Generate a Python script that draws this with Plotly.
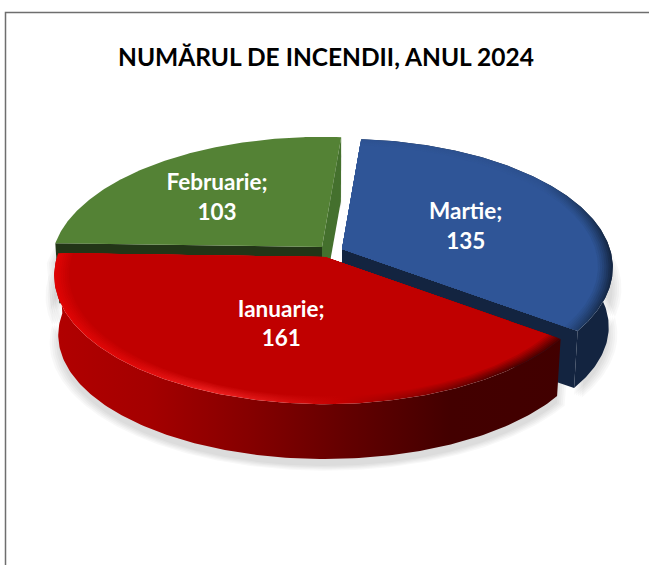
import math
import plotly.graph_objects as go

# ---- data ----
categories = ["Ianuarie", "Februarie", "Martie"]
values = [161, 103, 135]
title_text = "NUMĂRUL DE INCENDII, ANUL 2024"

# ---- geometry of the 3D look (pixel space) ----
W, H = 649, 565
RX, RY, K = 268, 126, 0.144
DROP, BOTTOM_SX, BOTTOM_SY = 60, 0.985, 0.965
START_ANGLE = -36.5
BEVEL = 0.055
apexes = {"Ianuarie": (325, 257), "Februarie": (322, 247), "Martie": (342, 249)}
label_radius = {"Ianuarie": 0.47, "Februarie": 0.62, "Martie": 0.52}
label_shift = {"Ianuarie": (4, 4), "Februarie": (-5, 5), "Martie": (4, 5)}

# ---- styles ----
BASE = {"Ianuarie": "#c00000", "Februarie": "#548235", "Martie": "#2f5597"}
FACE = {"Februarie": "#223517", "Martie": "#132440"}
RED_WALL = [(0, "#b80000"), (150, "#a40000"), (250, "#850000"), (350, "#620000"),
            (450, "#430000"), (649, "#400000")]
RED_EDGE = [(0, "#e00000"), (130, "#e00808"), (210, "#ee2020"), (270, "#dd1414"),
            (340, "#c40000"), (420, "#8c0000"), (500, "#520000"), (649, "#480000")]
BLUE_EDGE = [(0, "#2f5597"), (540, "#2c508e"), (585, "#1d3861"), (615, "#132440"), (649, "#132440")]


def rgb(h):
    return tuple(int(h[i:i + 2], 16) for i in (1, 3, 5))


def mix(a, b, f):
    ca, cb = rgb(a), rgb(b)
    return "rgb(%d,%d,%d)" % tuple(round(x + (y - x) * f) for x, y in zip(ca, cb))


def gradient(stops, base=None, f=0.0):
    return dict(type="horizontal", start=0, stop=W,
                colorscale=[[x / W, mix(c, base or c, f)] for x, c in stops])


def pt(apex, t, sx=1.0, sy=1.0, drop=0.0):
    u, v = math.cos(math.radians(t)), math.sin(math.radians(t))
    d = 1 + K * v
    return apex[0] + RX * u / d * sx, apex[1] - RY * v / d * sy + drop


def arc(apex, t0, t1, sx=1.0, sy=1.0, drop=0.0, n=160):
    pts = [pt(apex, t0 + (t1 - t0) * i / n, sx, sy, drop) for i in range(n + 1)]
    return [p[0] for p in pts], [p[1] for p in pts]


fig = go.Figure()


def poly(xs, ys, fill=None, grad=None):
    kw = dict(x=xs + xs[:1], y=ys + ys[:1], mode="lines", line=dict(width=0),
              fill="toself", hoverinfo="skip", showlegend=False)
    if grad:
        kw["fillgradient"] = grad
    else:
        kw["fillcolor"] = fill
    fig.add_trace(go.Scatter(**kw))


# angular extents derived from the values
total = sum(values)
spans = {}
a = START_ANGLE
for c, v in zip(categories, values):
    b = a - v / total * 360
    spans[c] = (a, b)
    a = b

# soft shadow
for c in categories:
    ap = apexes[c]
    t0, t1 = spans[c]
    for i in range(5):
        grow = 0.008 * i
        xa, ya = arc(ap, t0, t1, 1 + grow, 1 + grow, 20)
        xb, yb = arc(ap, t0, t1, BOTTOM_SX + grow, BOTTOM_SY + grow, DROP + 7)
        poly(xa + xb[::-1], ya + yb[::-1], fill="rgba(0,0,0,0.026)")


def wall_poly(ap, t0, t1):
    xa, ya = arc(ap, t0, t1)
    xb, yb = arc(ap, t0, t1, BOTTOM_SX, BOTTOM_SY, DROP)
    return xa + xb[::-1], ya + yb[::-1]


def cut_poly(ap, t):
    x1, y1 = pt(ap, t)
    x2, y2 = pt(ap, t, BOTTOM_SX, BOTTOM_SY, DROP)
    return [ap[0], x1, x2, ap[0]], [ap[1], y1, y2, ap[1] + DROP]


def top(ap, t0, t1, s=1.0):
    xs, ys = arc(ap, t0, t1, s, s)
    return [ap[0]] + xs, [ap[1]] + ys


LAYERS = 7

# Martie (behind)
c = "Martie"
ap = apexes[c]
t0, t1 = spans[c]
poly(*wall_poly(ap, t0, t1), fill=FACE[c])
poly(*cut_poly(ap, t1), fill=FACE[c])
poly(*top(ap, t0, t1), grad=gradient(BLUE_EDGE))
for i in range(1, LAYERS):
    poly(*top(ap, t0, t1, 1 - BEVEL * i / LAYERS), grad=gradient(BLUE_EDGE, BASE[c], i / LAYERS))
poly(*top(ap, t0, t1, 1 - BEVEL), fill=BASE[c])

# Februarie
c = "Februarie"
ap = apexes[c]
t0, t1 = spans[c]
poly(*cut_poly(ap, t0), fill=FACE[c])
poly(*cut_poly(ap, t1), fill="#44702d")
poly(*top(ap, t0, t1), fill=BASE[c])

# Ianuarie (front)
c = "Ianuarie"
ap = apexes[c]
t0, t1 = spans[c]
poly(*wall_poly(ap, t0, t1), grad=gradient(RED_WALL))
poly(*top(ap, t0, t1), grad=gradient(RED_EDGE))
for i in range(1, LAYERS):
    poly(*top(ap, t0, t1, 1 - BEVEL * i / LAYERS), grad=gradient(RED_EDGE, BASE[c], i / LAYERS))
poly(*top(ap, t0, t1, 1 - BEVEL), fill=BASE[c])

# data labels
lx, ly, lt = [], [], []
for c, v in zip(categories, values):
    t0, t1 = spans[c]
    x, y = pt(apexes[c], (t0 + t1) / 2, label_radius[c], label_radius[c])
    lx.append(x + label_shift[c][0])
    ly.append(y + label_shift[c][1])
    lt.append(f"{c};<br>{v}")
fig.add_trace(go.Scatter(x=lx, y=ly, text=lt, mode="text", textposition="middle center",
                         textfont=dict(family="Lato", size=22.5, color="white", weight="bold"),
                         hoverinfo="skip", showlegend=False))

fig.update_layout(
    width=W, height=H, margin=dict(l=0, r=0, t=0, b=0),
    paper_bgcolor="white", plot_bgcolor="white", showlegend=False,
    xaxis=dict(range=[0, W], visible=False, fixedrange=True),
    yaxis=dict(range=[H, 0], visible=False, fixedrange=True),
    shapes=[dict(type="path", path=f"M 5.5 {H} L 5.5 12.5 L {W} 12.5",
                 line=dict(color="#6e6e6e", width=1.5), layer="above")],
    annotations=[dict(text=f"<b>{title_text}</b>", x=325.5, y=56, xref="x", yref="y",
                      showarrow=False, xanchor="center", yanchor="middle",
                      font=dict(family="Lato", size=24.5, color="black"))],
)

fig.write_html("out.html", post_script="document.body.style.margin='0';",
               config={"displayModeBar": False})
